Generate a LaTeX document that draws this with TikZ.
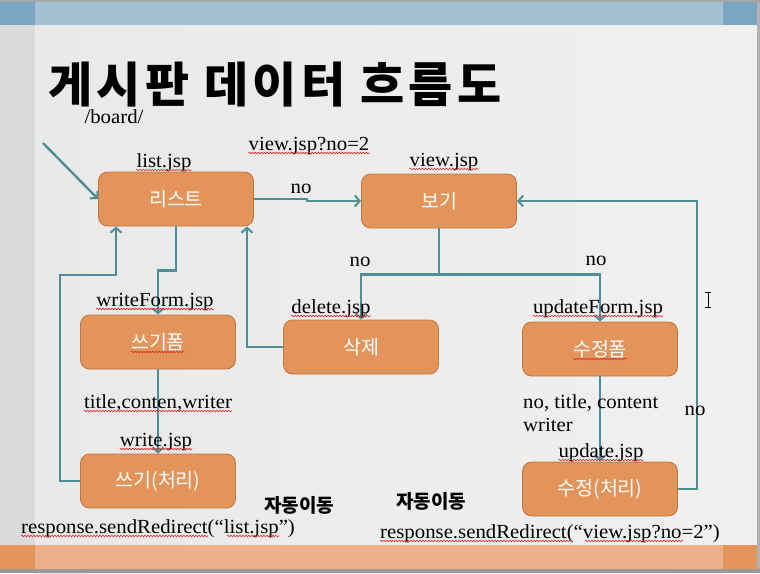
\documentclass[tikz,border=0pt]{standalone}
\usepackage{fontspec}
\setmainfont[FakeStretch=1.04]{Liberation Serif}
\newfontfamily\kr{Noto Sans CJK KR}
\newfontfamily\krtitle[LetterSpace=9]{Noto Sans CJK KR}
\usetikzlibrary{arrows.meta,decorations.pathmorphing}

\definecolor{bgmain}{RGB}{233,233,233}
\definecolor{bgleft}{RGB}{219,219,219}
\definecolor{bgright}{RGB}{240,240,240}
\definecolor{bandblue}{RGB}{164,193,212}
\definecolor{banddeep}{RGB}{124,165,194}
\definecolor{bandpeach}{RGB}{237,176,137}
\definecolor{bandorange}{RGB}{228,149,92}
\definecolor{boxfill}{RGB}{227,148,90}
\definecolor{boxline}{RGB}{190,118,64}
\definecolor{flow}{RGB}{78,142,148}
\definecolor{spell}{RGB}{225,40,40}

\tikzset{
  stepbox/.style={draw=boxline, line width=0.8pt, fill=boxfill, rounded corners=9pt,
    minimum width=155pt, minimum height=54pt, inner sep=0pt,
    text=white, font=\kr\fontsize{19.5}{21}\selectfont},
  lbl/.style={inner sep=0pt, anchor=base, font=\fontsize{20}{22}\selectfont},
  lblw/.style={lbl, anchor=base west},
  auto/.style={inner sep=0pt, font=\kr\bfseries\fontsize{19}{21}\selectfont},
  flowline/.style={draw=flow, line width=2.4pt,
    -{Straight Barb[length=5pt,width=11pt,line width=2pt]}},
  plainflow/.style={draw=flow, line width=2.4pt},
  squig/.style={draw=spell, line width=0.6pt,
    decorate, decoration={snake, amplitude=0.8pt, segment length=3pt}}
}
\newcommand\spellmark[1]{\draw[squig] ([yshift=-3pt]#1.base west) -- ([yshift=-3pt]#1.base east);}

\begin{document}
\begin{tikzpicture}[x=1pt, y=-1pt]
  % slide background and bands
  \useasboundingbox (0,0) rectangle (760,573);
  \fill[bgmain] (0,0) rectangle (760,573);
  \shade[left color=bgmain, right color=bgright] (35,0) rectangle (723,573);
  \fill[bgleft] (0,0) rectangle (35,573);
  \fill[bgright] (723,0) rectangle (760,573);
  \fill[gray!70] (0,0) rectangle (760,2);
  \fill[bandblue] (0,2) rectangle (760,25);
  \fill[banddeep] (0,2) rectangle (35,25);
  \fill[banddeep] (723,2) rectangle (757,25);
  \fill[bandpeach] (0,545) rectangle (760,569);
  \fill[bandorange] (0,545) rectangle (35,569);
  \fill[bandorange] (723,545) rectangle (757,569);
  \fill[gray!80] (0,569) rectangle (760,573);
  \fill[gray!60] (757,2) rectangle (760,569);

  % title
  \node[inner sep=0pt, anchor=base west, font=\krtitle\bfseries\fontsize{48}{50}\selectfont]
    (title) at (48,102) {게시판\hspace{15pt}데이터\hspace{15pt}흐름도};

  % process boxes
  \node[stepbox] (list)  at (176,199) {리스트};
  \node[stepbox] (view)  at (439,201) {보기};
  \node[stepbox] (wform) at (158,342) {쓰기폼};
  \node[stepbox] (del)   at (361,347) {삭제};
  \node[stepbox] (uform) at (600,349) {수정폼};
  \node[stepbox] (write) at (158,481) {쓰기(처리)};
  \node[stepbox] (upd)   at (600,489) {수정(처리)};

  % connectors
  \coordinate (entry) at (43,143);
  \coordinate (wback) at (60,275);
  \draw[flowline] (entry) -- (list.west);
  \draw[flowline] (list.east) -- ++(53,0) |- (view.west);
  \draw[flowline] (list.south) -- ++(0,44) -| (wform.north);
  \draw[flowline] (wform.south) -- (write.north);
  \draw[flowline] (write.west) -| (wback) -| ([xshift=-60pt]list.south);
  \draw[flowline] (del.west) -| ([xshift=71pt]list.south);
  \draw[plainflow] (view.south) -- ++(0,46) coordinate (split);
  \draw[flowline] (split) -| (uform.north);
  \draw[flowline] (split) -| (del.north);
  \draw[flowline] (uform.south) -- (upd.north);
  \draw[flowline] (upd.east) -- ++(19,0) |- (view.east);

  % labels
  \node[lbl] (board)  at (114,123) {/board/};
  \node[lbl] (tlist)  at (164,167) {list.jsp};
  \node[lbl] (tvq)    at (309,150) {view.jsp?no=2};
  \node[lbl] (tno1)   at (301,193) {no};
  \node[lbl] (tview)  at (444,166) {view.jsp};
  \node[lbl] (tno2)   at (360,266) {no};
  \node[lbl] (tno3)   at (596,265) {no};
  \node[lbl] (twf)    at (155,306) {writeForm.jsp};
  \node[lbl] (tdel)   at (331,313) {delete.jsp};
  \node[lbl] (tuf)    at (598,313) {updateForm.jsp};
  \node[lbl] (tparam) at (158,408) {title,conten,writer};
  \node[lbl] (twr)    at (156,446) {write.jsp};
  \node[lblw] (tup1)  at (523,408) {no, title, content};
  \node[lblw] (tup2)  at (523,431) {writer};
  \node[lbl] (tno4)   at (695,415) {no};
  \node[lbl] (tupd)   at (601,457) {update.jsp};
  \node[lbl] (rd1)    at (158,533) {response.sendRedirect(“list.jsp”)};
  \node[lbl] (rd2)    at (550,538) {response.sendRedirect(“view.jsp?no=2”)};
  \node[auto] (auto1) at (299,505) {자동이동};
  \node[auto] (auto2) at (431,501) {자동이동};

  % spell-check underlines
  \spellmark{tlist}
  \spellmark{tvq}
  \spellmark{tview}
  \spellmark{twf}
  \spellmark{tdel}
  \spellmark{tuf}
  \spellmark{tparam}
  \spellmark{twr}
  \spellmark{tupd}
  \draw[squig] ([yshift=-10pt]wform.center) ++(-27,0) -- ++(54,0);
  \draw[squig] ([yshift=-10pt]uform.center) ++(-27,0) -- ++(54,0);
  \draw[squig] (21,536) -- (208,536);
  \draw[squig] (227,536) -- (279,536);
  \draw[squig] (380,541) -- (572,541);
  \draw[squig] (585,541) -- (683,541);

  % text cursor
  \draw[line width=0.8pt] (708,293) -- (708,307);
  \draw[line width=0.8pt] (705,292.5) -- (711,292.5);
  \draw[line width=0.8pt] (705,307.5) -- (711,307.5);
\end{tikzpicture}
\end{document}
